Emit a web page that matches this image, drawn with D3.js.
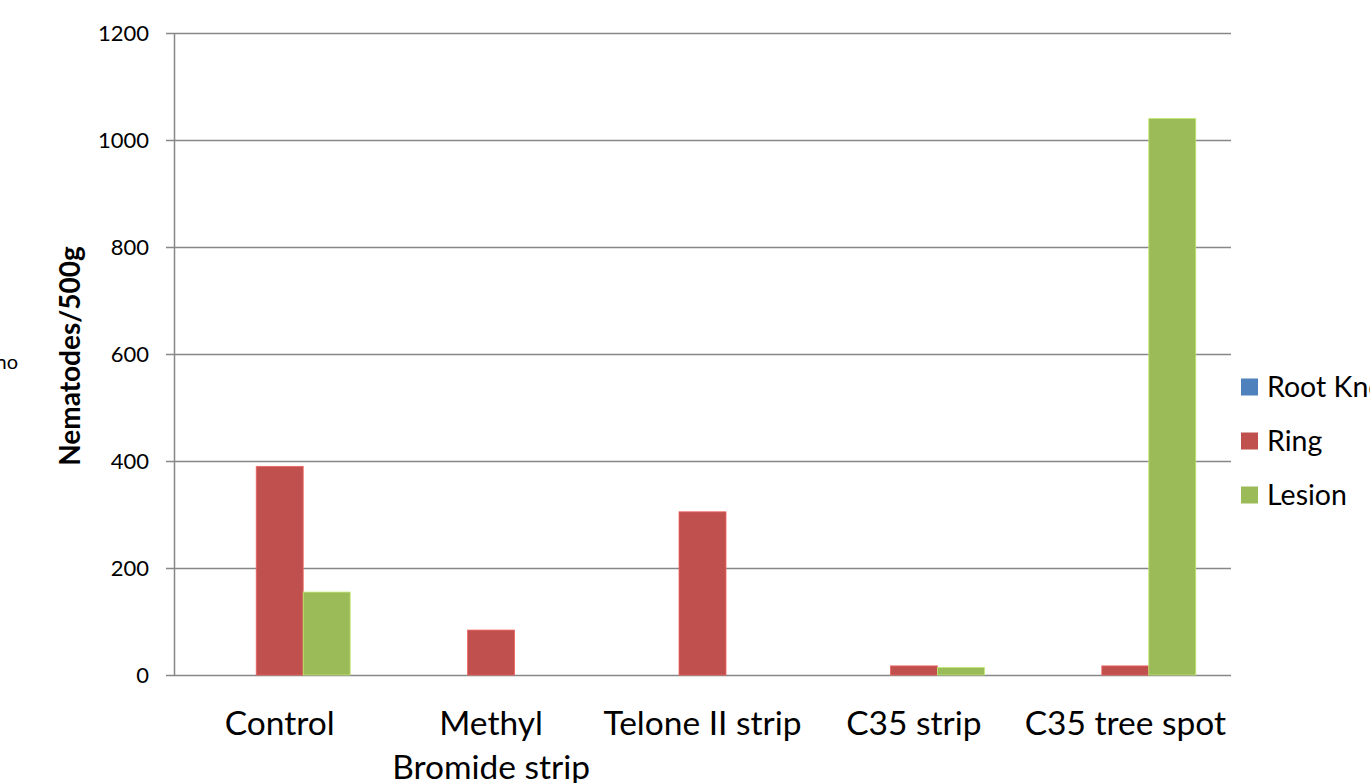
<!DOCTYPE html>
<html>
<head>
<meta charset="utf-8">
<script src="https://cdn.jsdelivr.net/npm/d3@7"></script>
<style>
  html, body { margin: 0; padding: 0; background: #fff; overflow: hidden; }
  svg { display: block; font-family: Lato, "Open Sans", sans-serif; }
</style>
</head>
<body>
<svg id="chart" width="1370" height="783"></svg>
<script>
// Nematode counts per treatment
const categories = [["Control"], ["Methyl", "Bromide strip"], ["Telone II strip"], ["C35 strip"], ["C35 tree spot"]];
const seriesNames = ["Root Knot", "Ring", "Lesion"];
const rootKnot = [0, 0, 0, 0, 0];
const ring = [390, 84, 305, 17, 17];
const lesion = [155, 0, 0, 14, 1040];
const yTicks = [0, 200, 400, 600, 800, 1000, 1200];
const colors = ["#4F81BD", "#C0504D", "#9BBB59"];

const seriesValues = [rootKnot, ring, lesion];
const svg = d3.select("#chart");

const plot = { left: 174, right: 1231, top: 33, bottom: 675 };

// Category bands; bars use a 150% gap width between groups
const x0 = d3.scaleBand()
  .domain(d3.range(categories.length))
  .range([plot.left, plot.right])
  .padding(0);
const bandW = x0.bandwidth();
const barW = bandW / (seriesNames.length + 1.5);
const x1 = d3.scaleBand()
  .domain(d3.range(seriesNames.length))
  .range([0, barW * seriesNames.length]);
const xPos = i => x0(i) + barW * 0.75;

const y = d3.scaleLinear().domain([0, 1200]).range([plot.bottom, plot.top]);

// Horizontal gridlines (with left tick stubs)
svg.append("g")
  .selectAll("line")
  .data(yTicks)
  .join("line")
  .attr("x1", plot.left - 8)
  .attr("x2", plot.right)
  .attr("y1", d => y(d) + 0.5)
  .attr("y2", d => y(d) + 0.5)
  .attr("stroke", "#878787")
  .attr("stroke-width", 1.5);

// Vertical axis line
svg.append("line")
  .attr("x1", plot.left + 0.5).attr("x2", plot.left + 0.5)
  .attr("y1", plot.top).attr("y2", plot.bottom + 1)
  .attr("stroke", "#878787").attr("stroke-width", 1.5);

// Y tick labels
svg.append("g")
  .selectAll("text")
  .data(yTicks)
  .join("text")
  .attr("x", plot.left - 25)
  .attr("y", d => y(d))
  .attr("dy", "0.35em")
  .attr("text-anchor", "end")
  .attr("font-size", 22)
  .attr("fill", "#000")
  .text(d => d);

// Bars
const groups = svg.append("g");
seriesValues.forEach((vals, s) => {
  groups.append("g")
    .selectAll("rect")
    .data(vals)
    .join("rect")
    .attr("x", (d, i) => xPos(i) + x1(s))
    .attr("width", x1.bandwidth())
    .attr("y", d => y(d))
    .attr("height", d => y(0) - y(d))
    .attr("fill", colors[s])
    .attr("stroke", d => d > 0 ? d3.color(colors[s]).brighter(0.6) : "none")
    .attr("stroke-width", 0.8);
});

// Category labels
const catG = svg.append("g");
categories.forEach((lines, i) => {
  const cx = x0(i) + bandW / 2;
  const t = catG.append("text")
    .attr("x", cx)
    .attr("y", 735)
    .attr("text-anchor", "middle")
    .attr("font-size", 33.5)
    .attr("fill", "#000");
  lines.forEach((ln, k) => {
    t.append("tspan").attr("x", cx).attr("dy", k === 0 ? 0 : 44).text(ln);
  });
});

// Y axis title
svg.append("text")
  .attr("transform", "translate(80,356) rotate(-90)")
  .attr("text-anchor", "middle")
  .attr("font-size", 28)
  .attr("font-weight", "bold")
  .attr("fill", "#000")
  .text("Nematodes/500g");

// Side note running off the left edge
svg.append("text")
  .attr("x", 18)
  .attr("y", 369)
  .attr("text-anchor", "end")
  .attr("font-size", 20)
  .attr("fill", "#000")
  .text("no");

// Legend
const legend = svg.append("g");
seriesNames.forEach((name, s) => {
  const cy = 387 + s * 54;
  legend.append("rect")
    .attr("x", 1241).attr("y", cy - 8.5)
    .attr("width", 17).attr("height", 17)
    .attr("fill", colors[s]);
  legend.append("text")
    .attr("x", 1267).attr("y", cy)
    .attr("dy", "0.35em")
    .attr("font-size", 28.5)
    .attr("fill", "#000")
    .text(name);
});
</script>
</body>
</html>
